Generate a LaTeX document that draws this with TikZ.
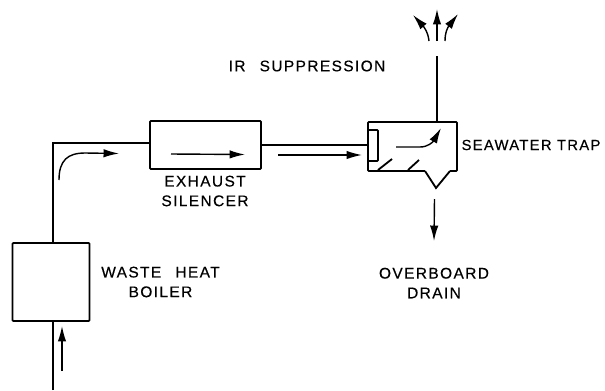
\documentclass[tikz,border=0pt]{standalone}
\usepackage{fontspec}
\setmainfont[LetterSpace=9,FakeBold=0.4]{Liberation Sans}
\usetikzlibrary{arrows.meta}
\tikzset{
  unit/.style={draw, line width=1.3pt, rounded corners=0.6pt, inner sep=0pt},
  pipe/.style={line width=1.3pt},
  flow/.style={line width=1pt, -{Latex[length=11pt,width=6pt]}},
  label/.style={font=\fontsize{11}{14}\selectfont, align=center, inner sep=0pt}
}
\begin{document}
\begin{tikzpicture}[x=0.025cm,y=-0.025cm]
  \useasboundingbox (0,0) rectangle (605,390);

  % Units
  \node[unit, minimum width=77*0.025cm, minimum height=78*0.025cm] (boiler) at (51,282) {};
  \node[unit, minimum width=111*0.025cm, minimum height=48*0.025cm] (silencer) at (205.5,145) {};
  \node[unit, minimum width=89*0.025cm, minimum height=49*0.025cm] (trap) at (412.5,146.5) {};
  \node[unit, minimum width=10*0.025cm, minimum height=31*0.025cm] (baffle) at (373,145.5) {};

  % Drain notch
  \coordinate (notchl) at (425,171);
  \coordinate (notchb) at (436,188);
  \coordinate (notchr) at (450,171);
  \draw[pipe, draw=white] (notchl) -- (notchr);
  \draw[pipe] (notchl) -- (notchb) -- (notchr);

  % Pipes
  \coordinate (inlet) at (53,390);
  \coordinate (bend) at (53,143);
  \coordinate (outlet) at (437,56);
  \draw[pipe] (inlet) -- (53,321);
  \draw[pipe] (53,243) -- (bend) -- (150,143);
  \draw[pipe] (261,145) -- (baffle.west |- 261,145);
  \draw[pipe] (437,122) -- (outlet);

  % Sloped marks in the trap
  \draw[pipe] (378,170) -- (392,159);
  \draw[pipe] (408,170) -- (419,160);

  % Flow arrows
  \draw[flow] (62,371) -- (62,326);
  \draw[flow] (59,180) .. controls (59,160) and (68,153) .. (85,153) -- (119,153.5);
  \draw[flow] (171,154) -- (245,154.5);
  \draw[flow] (278,155) -- (362,155);
  \draw[flow] (396,147) -- (420,147) .. controls (428,147) and (433,142) .. (441,128);
  \draw[flow] (434.5,199) -- (434,241);
  \draw[flow] (429,41) .. controls (428,32) and (424,27) .. (413,15);
  \draw[flow] (437,41) -- (437,9);
  \draw[flow] (445,41) .. controls (445,32) and (448,27) .. (458,14);

  % Labels
  \node[label] (irlabel) at (307,66) {IR\hspace{6pt} SUPPRESSION};
  \node[label, font=\fontsize{10.5}{14}\selectfont] (traplabel) at (531,145) {SEAWATER TRAP};
  \node[label] (silencerlabel) at (205,191) {EXHAUST\\SILENCER};
  \node[label] (boilerlabel) at (160.5,282) {WASTE\hspace{6pt} HEAT\\BOILER};
  \node[label] (drainlabel) at (434,283) {OVERBOARD\\DRAIN};
\end{tikzpicture}
\end{document}
